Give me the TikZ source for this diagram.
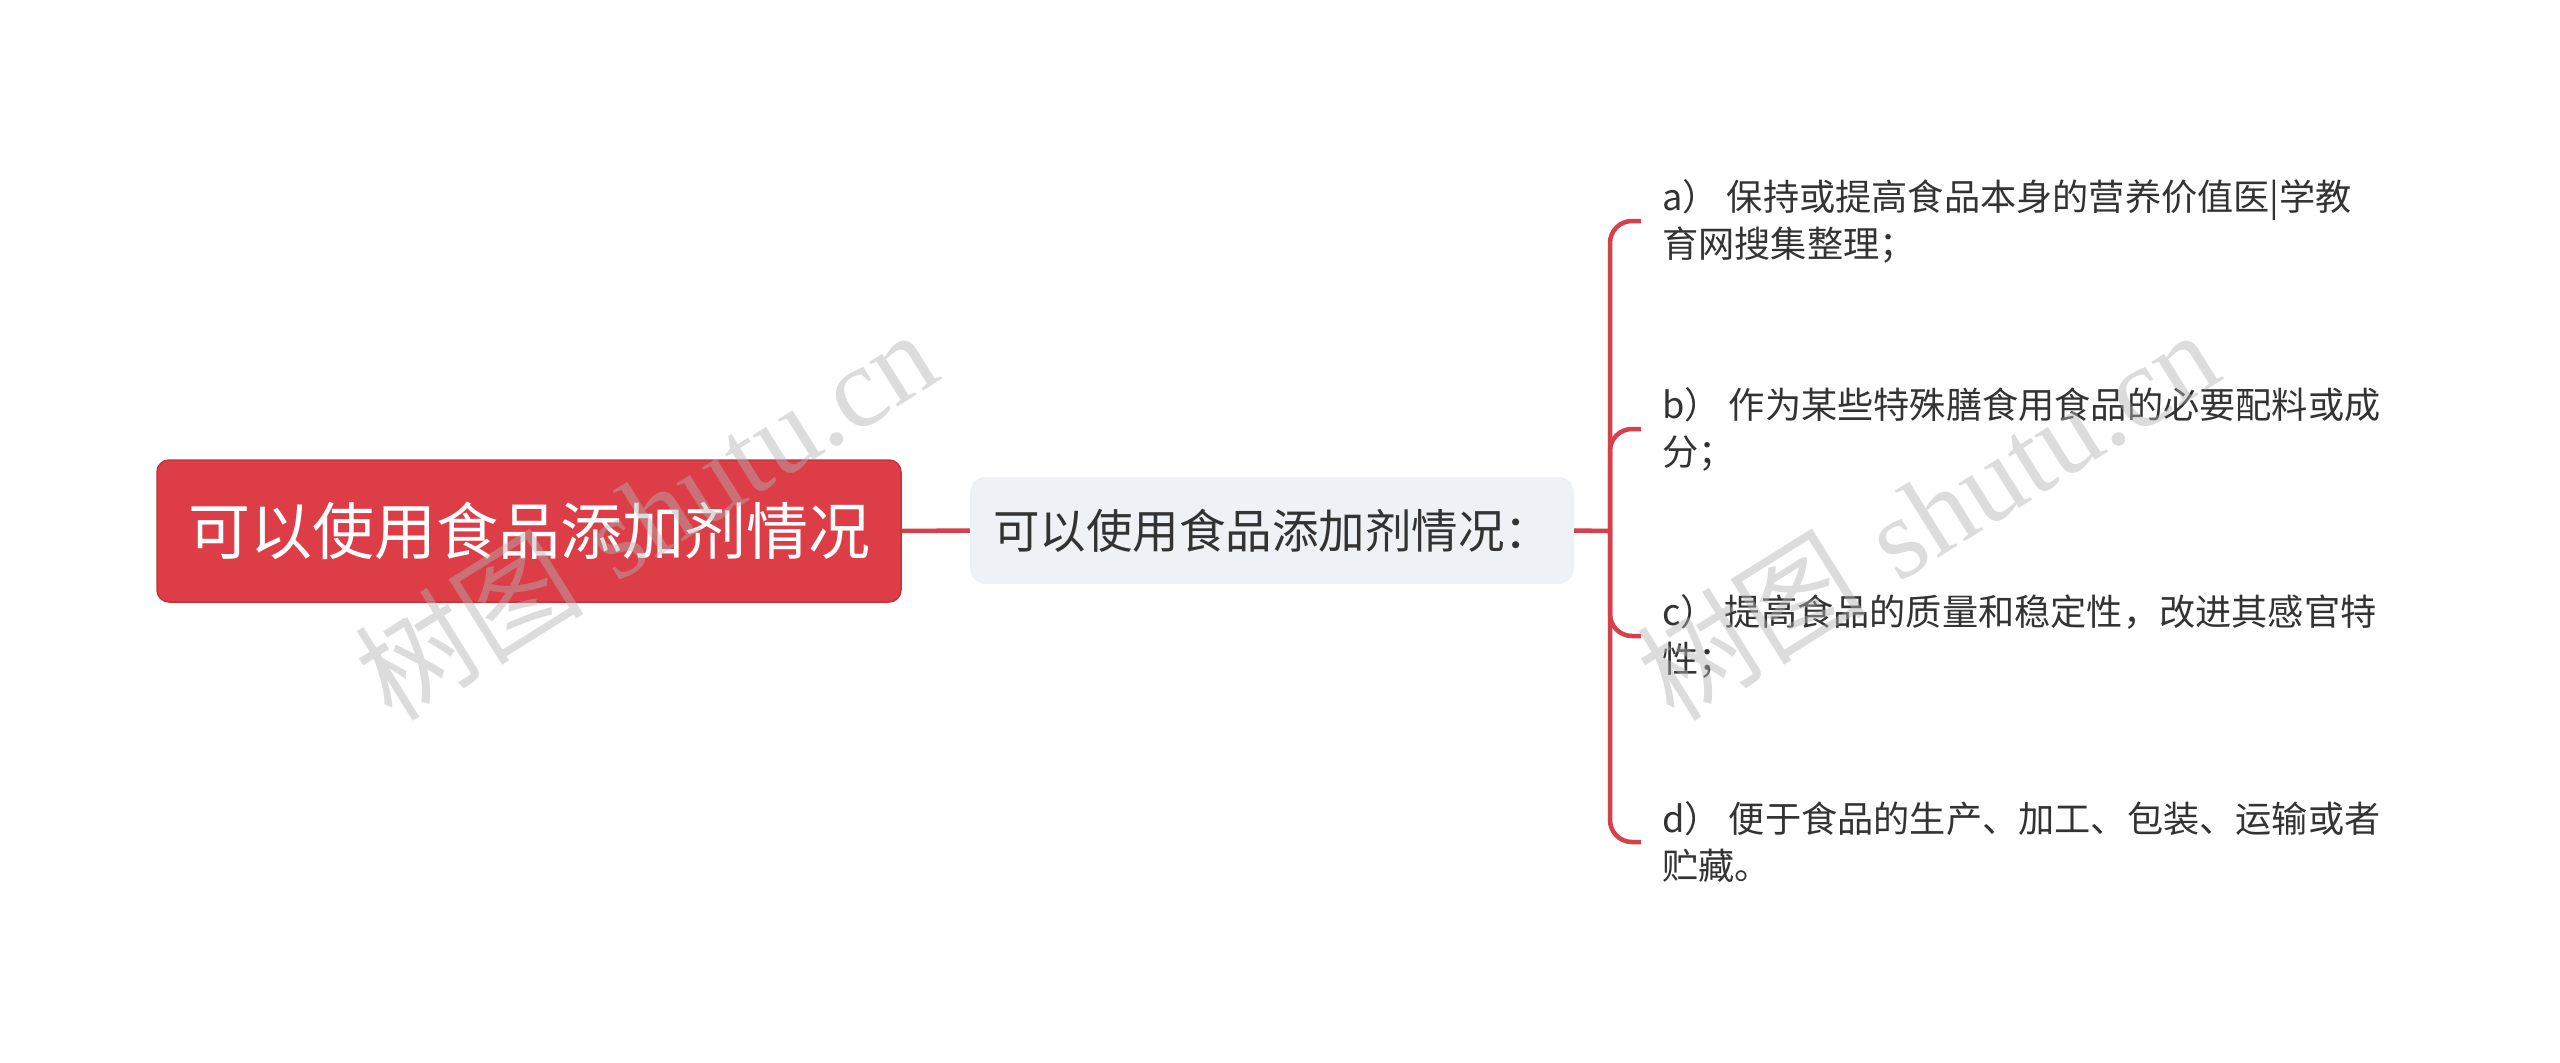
\documentclass[tikz,border=0pt]{standalone}
\usepackage{fontspec}
\newfontfamily\cjk{Noto Sans CJK SC}
\newfontfamily\wmserif{Liberation Serif}
\definecolor{rootred}{HTML}{DC3D46}
\definecolor{rootborder}{HTML}{C8323B}
\definecolor{linkred}{HTML}{D5404A}
\definecolor{midfill}{HTML}{EEF1F5}
\definecolor{txt}{HTML}{333333}
\tikzset{
  rootbox/.style={draw=rootborder, line width=1.5pt, fill=rootred, rounded corners=12pt,
    minimum width=744pt, minimum height=142pt, inner sep=0pt,
    text=white, font=\cjk\fontsize{62}{72}\selectfont},
  midbox/.style={fill=midfill, rounded corners=16pt, minimum width=604pt, minimum height=107pt,
    inner sep=0pt, text=txt, font=\cjk\fontsize{46.5}{54}\selectfont},
  leafbox/.style={anchor=west, inner xsep=21pt, inner ysep=0pt, align=left, text=txt,
    font=\cjk\fontsize{36.2}{47}\selectfont},
  link/.style={draw=linkred, line width=4.5pt},
  wmark/.style={text=gray!60, opacity=0.45, rotate=32, font=\fontsize{115}{115}\selectfont}
}
\begin{document}
\begin{tikzpicture}[x=1pt,y=1pt]
\useasboundingbox (0,0) rectangle (2560,-1063);
\fill[white] (0,0) rectangle (2560,-1063);
\node[rootbox] (root) at (529,-531) {可以使用食品添加剂情况};
\node[midbox] (mid) at (1272,-530.5) {可以使用食品添加剂情况：};
\coordinate (junc) at (1610,-531);
\node[leafbox] (la) at (1641,-221) {a）\ 保持或提高食品本身的营养价值医|学教\\育网搜集整理；};
\node[leafbox] (lb) at (1641,-429) {b）\ 作为某些特殊膳食用食品的必要配料或成\\分；};
\node[leafbox] (lc) at (1641,-636) {c）\ 提高食品的质量和稳定性，改进其感官特\\性；};
\node[leafbox] (ld) at (1641,-842) {d）\ 便于食品的生产、加工、包装、运输或者\\贮藏。};
\draw[link] (root.east) -- (mid.west);
\draw[link] (mid.east) -- (junc);
\foreach \n in {la,lb,lc,ld}{
  \draw[link, rounded corners=22pt] (junc) |- (\n.west);
}
\node[wmark] (wm1) at (645,-514) {{\cjk 树图} {\wmserif shutu.cn}};
\node[wmark] (wm2) at (1927,-514) {{\cjk 树图} {\wmserif shutu.cn}};
\end{tikzpicture}
\end{document}
